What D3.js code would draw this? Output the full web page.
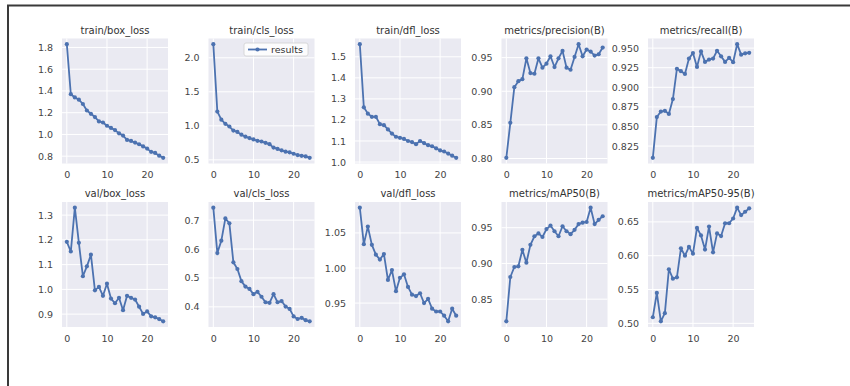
<!DOCTYPE html>
<html>
<head>
<meta charset="utf-8">
<script src="https://cdn.jsdelivr.net/npm/d3@7"></script>
<style>
  body { margin: 0; background: #fff; }
  text { font-family: "DejaVu Sans", sans-serif; }
</style>
</head>
<body>
<script>
// epochs on the x axis
var epochs = [0,1,2,3,4,5,6,7,8,9,10,11,12,13,14,15,16,17,18,19,20,21,22,23,24];

// series
var trainBox = [1.83,1.37,1.34,1.32,1.28,1.22,1.19,1.16,1.12,1.11,1.08,1.06,1.04,1.01,0.99,0.95,0.94,0.925,0.91,0.89,0.87,0.84,0.83,0.805,0.785];
var trainCls = [2.2,1.21,1.09,1.03,0.99,0.93,0.91,0.87,0.84,0.82,0.80,0.78,0.77,0.75,0.73,0.68,0.66,0.64,0.62,0.61,0.59,0.57,0.56,0.55,0.53];
var trainDfl = [1.56,1.26,1.23,1.215,1.215,1.18,1.175,1.155,1.135,1.12,1.115,1.11,1.10,1.095,1.085,1.10,1.09,1.08,1.075,1.065,1.055,1.05,1.04,1.03,1.02];
var precision = [0.801,0.853,0.906,0.915,0.918,0.949,0.927,0.926,0.949,0.935,0.941,0.952,0.936,0.949,0.96,0.935,0.932,0.951,0.97,0.952,0.962,0.959,0.953,0.955,0.965];
var recall = [0.81,0.862,0.869,0.870,0.866,0.885,0.9235,0.9206,0.917,0.9366,0.9437,0.926,0.9458,0.9324,0.9353,0.9366,0.9466,0.9395,0.9324,0.9374,0.932,0.955,0.9416,0.9433,0.944];
var valBox = [1.192,1.153,1.330,1.188,1.053,1.093,1.140,0.996,1.010,0.974,1.023,0.963,0.944,0.966,0.916,0.974,0.966,0.959,0.930,0.901,0.911,0.891,0.887,0.880,0.871];
var valCls = [0.743,0.586,0.629,0.706,0.689,0.554,0.531,0.489,0.470,0.462,0.444,0.452,0.435,0.416,0.414,0.444,0.416,0.420,0.401,0.393,0.367,0.358,0.362,0.354,0.350];
var valDfl = [1.086,1.034,1.059,1.033,1.019,1.012,1.020,0.983,0.997,0.967,0.986,0.991,0.973,0.962,0.960,0.964,0.950,0.956,0.942,0.938,0.938,0.932,0.924,0.942,0.932];
var map50 = [0.819,0.881,0.895,0.896,0.919,0.901,0.926,0.938,0.942,0.937,0.948,0.953,0.945,0.938,0.952,0.945,0.941,0.947,0.955,0.957,0.958,0.978,0.955,0.961,0.966];
var map5095 = [0.509,0.545,0.503,0.515,0.580,0.566,0.568,0.611,0.600,0.613,0.603,0.641,0.630,0.609,0.643,0.605,0.633,0.629,0.648,0.648,0.655,0.671,0.660,0.665,0.670];

// tick labels
var xTicks = ["0","10","20"];
var ticksTrainBox = ["0.8","1.0","1.2","1.4","1.6","1.8"];
var ticksTrainCls = ["0.5","1.0","1.5","2.0"];
var ticksTrainDfl = ["1.0","1.1","1.2","1.3","1.4","1.5"];
var ticksPrecision = ["0.80","0.85","0.90","0.95"];
var ticksRecall = ["0.825","0.850","0.875","0.900","0.925","0.950"];
var ticksValBox = ["0.9","1.0","1.1","1.2","1.3"];
var ticksValCls = ["0.4","0.5","0.6","0.7"];
var ticksValDfl = ["0.95","1.00","1.05"];
var ticksMap50 = ["0.85","0.90","0.95"];
var ticksMap5095 = ["0.50","0.55","0.60","0.65"];

var titles = ["train/box_loss","train/cls_loss","train/dfl_loss","metrics/precision(B)","metrics/recall(B)",
              "val/box_loss","val/cls_loss","val/dfl_loss","metrics/mAP50(B)","metrics/mAP50-95(B)"];
var seriesList = [trainBox,trainCls,trainDfl,precision,recall,valBox,valCls,valDfl,map50,map5095];
var tickList = [ticksTrainBox,ticksTrainCls,ticksTrainDfl,ticksPrecision,ticksRecall,
                ticksValBox,ticksValCls,ticksValDfl,ticksMap50,ticksMap5095];

var W = 850, H = 386;
var colX = [62, 208.5, 355, 501.5, 648], rowY = [38.5, 202];
var pw = 106, ph = 125;
var blue = "#4c72b0";

var svg = d3.select("body").append("svg")
  .attr("width", W)
  .attr("height", H);

// the frame round the screenshot
svg.append("path")
  .attr("d", "M8," + H + "V5.5H" + W)
  .attr("fill", "none")
  .attr("stroke", "#3a3a3a")
  .attr("stroke-width", 2);

titles.forEach(function(title, i) {
  var col = i % 5, row = Math.floor(i / 5);
  var vals = seriesList[i], ticks = tickList[i];

  var g = svg.append("g")
    .attr("transform", "translate(" + colX[col] + "," + rowY[row] + ")");

  var x = d3.scaleLinear().domain([-1.2, 25.2]).range([0, pw]);
  var ext = d3.extent(vals), pad = (ext[1] - ext[0]) * 0.05;
  var y = d3.scaleLinear().domain([ext[0] - pad, ext[1] + pad]).range([ph, 0]);

  g.append("rect")
    .attr("width", pw)
    .attr("height", ph)
    .attr("fill", "#eaeaf2");

  // white grid
  g.selectAll(".gy").data(ticks).enter().append("line")
    .attr("x1", 0).attr("x2", pw)
    .attr("y1", function(d) { return y(+d); })
    .attr("y2", function(d) { return y(+d); })
    .attr("stroke", "#fff").attr("stroke-width", 1);
  g.selectAll(".gx").data(xTicks).enter().append("line")
    .attr("y1", 0).attr("y2", ph)
    .attr("x1", function(d) { return x(+d); })
    .attr("x2", function(d) { return x(+d); })
    .attr("stroke", "#fff").attr("stroke-width", 1);

  var ya = g.append("g")
    .call(d3.axisLeft(y).tickValues(ticks.map(Number))
      .tickFormat(function(d, k) { return ticks[k]; })
      .tickSize(0).tickPadding(9));
  var xa = g.append("g")
    .attr("transform", "translate(0," + ph + ")")
    .call(d3.axisBottom(x).tickValues(xTicks.map(Number))
      .tickFormat(function(d, k) { return xTicks[k]; })
      .tickSize(0).tickPadding(8));
  [ya, xa].forEach(function(a) {
    a.select(".domain").remove();
    a.selectAll("text")
      .attr("fill", "#444")
      .style("font-size", "9.5px")
      .style("font-family", "'DejaVu Sans', sans-serif");
  });

  g.append("text")
    .attr("x", pw / 2)
    .attr("y", -5)
    .attr("text-anchor", "middle")
    .attr("fill", "#333")
    .style("font-size", "10px")
    .text(title);

  var line = d3.line()
    .x(function(d, k) { return x(epochs[k]); })
    .y(function(d) { return y(d); });

  g.append("path")
    .datum(vals)
    .attr("d", line)
    .attr("fill", "none")
    .attr("stroke", blue)
    .attr("stroke-width", 1.8)
    .attr("stroke-linejoin", "round");

  g.selectAll(".pt").data(vals).enter().append("circle")
    .attr("cx", function(d, k) { return x(epochs[k]); })
    .attr("cy", function(d) { return y(d); })
    .attr("r", 2.1)
    .attr("fill", blue);

  // legend only sits in the second panel
  if (i === 1) {
    var lg = g.append("g").attr("transform", "translate(35.5,4.5)");
    lg.append("rect")
      .attr("width", 64).attr("height", 13).attr("rx", 2)
      .attr("fill", "#fff").attr("fill-opacity", 0.85)
      .attr("stroke", "#d0d0d0").attr("stroke-width", 0.8);
    lg.append("line")
      .attr("x1", 4).attr("x2", 23).attr("y1", 6.5).attr("y2", 6.5)
      .attr("stroke", blue).attr("stroke-width", 1.8);
    lg.append("circle").attr("cx", 13.5).attr("cy", 6.5).attr("r", 2.1).attr("fill", blue);
    lg.append("text")
      .attr("x", 27).attr("y", 10)
      .attr("fill", "#333")
      .style("font-size", "9.5px")
      .text("results");
  }
});
</script>
</body>
</html>
